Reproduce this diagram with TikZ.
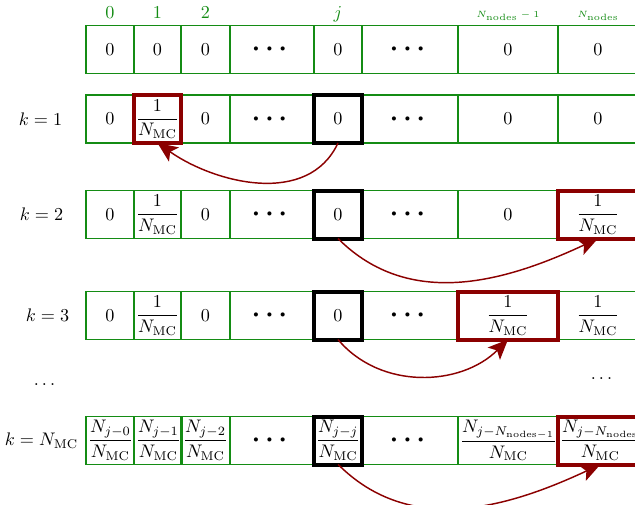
\documentclass[tikz,border=0pt]{standalone}
\usepackage{amsmath, amssymb}
\usepackage{xcolor}
\usepackage{tikz}
\usetikzlibrary{positioning,arrows.meta}

\definecolor{cellgreen}{RGB}{20,140,20}
\definecolor{hitred}{RGB}{139,0,0}

\newcommand{\frk}[1]{\dfrac{#1}{N_{\mathrm{MC}}}}
\newcommand{\bigdots}{\mbox{\Large$\boldsymbol{\cdots}$}}

\begin{document}
\begin{tikzpicture}[x=0.55pt, y=-0.55pt, >=Stealth,
		cell/.style={draw=cellgreen, semithick, anchor=west, outer sep=0pt, inner sep=1pt, minimum height=48*0.55pt},
		jbox/.style={draw=black, line width=2.2pt},
		hitbox/.style={draw=hitred, line width=2.2pt},
		idx/.style={text=cellgreen, text height=1.5ex, text depth=.25ex, inner sep=0pt},
		hop/.style={hitred, thick, -{Stealth[length=11pt, width=9.5pt, inset=2.5pt]}}]
		\useasboundingbox (0,0) rectangle (635,504);

		% rows of cells
		\foreach \x/\w/\t [count=\c from 0] in {86/48/0, 134/47/0, 181/49/0, 230/84/\bigdots, 314/48/0, 362/96/\bigdots, 458/100/0, 558/80/0}
			\node[cell, minimum width=\w*0.55pt] (r0c\c) at (\x,49.5) {$\t$};
		\foreach \x/\w/\t [count=\c from 0] in {86/48/0, 134/47/\frk{1}, 181/49/0, 230/84/\bigdots, 314/48/0, 362/96/\bigdots, 458/100/0, 558/80/0}
			\node[cell, minimum width=\w*0.55pt] (r1c\c) at (\x,119) {$\t$};
		\foreach \x/\w/\t [count=\c from 0] in {86/48/0, 134/47/\frk{1}, 181/49/0, 230/84/\bigdots, 314/48/0, 362/96/\bigdots, 458/100/0, 558/80/\frk{1}}
			\node[cell, minimum width=\w*0.55pt] (r2c\c) at (\x,214.5) {$\t$};
		\foreach \x/\w/\t [count=\c from 0] in {86/48/0, 134/47/\frk{1}, 181/49/0, 230/84/\bigdots, 314/48/0, 362/96/\bigdots, 458/100/\frk{1}, 558/80/\frk{1}}
			\node[cell, minimum width=\w*0.55pt] (r3c\c) at (\x,315.5) {$\t$};
		\foreach \x/\w/\t [count=\c from 0] in {86/48/\frk{N_{j-0}}, 134/47/\frk{N_{j-1}}, 181/49/\frk{N_{j-2}}, 230/84/\bigdots, 314/48/\frk{N_{j-j}}, 362/96/\bigdots, 458/100/\frk{N_{j-N_{\mathrm{nodes}-1}}}, 558/80/\frk{N_{j-N_{\mathrm{nodes}}}}}
			\node[cell, minimum width=\w*0.55pt] (r4c\c) at (\x,440.5) {$\t$};

		% column indices
		\node[idx, above=2.5pt of r0c0] (i0) {$0$};
		\node[idx, above=2.5pt of r0c1] (i1) {$1$};
		\node[idx, above=2.5pt of r0c2] (i2) {$2$};
		\node[idx, above=2.5pt of r0c4] (ij) {$j$};
		\node[idx, font=\tiny, above=3pt of r0c6] (in1) {$N_{\mathrm{nodes}}-1$};
		\node[idx, font=\tiny, above=3pt of r0c7] (in) {$N_{\mathrm{nodes}}$};

		% iteration labels
		\node (k1) at (40.5,119) {$k=1$};
		\node (k2) at (41.5,214.5) {$k=2$};
		\node (k3) at (47.5,315.5) {$k=3$};
		\node (kdots) at (46,385) {$\dots$};
		\node (rdots) at (603,379) {$\dots$};
		\node (kN) at (41.5,440.5) {$k=N_{\mathrm{MC}}$};

		% highlighted cells
		\draw[jbox] (r1c4.south west) rectangle (r1c4.north east);
		\draw[jbox] (r2c4.south west) rectangle (r2c4.north east);
		\draw[jbox] (r3c4.south west) rectangle (r3c4.north east);
		\draw[jbox] (r4c4.south west) rectangle (r4c4.north east);
		\draw[hitbox] (r1c1.south west) rectangle (r1c1.north east);
		\draw[hitbox] (r2c7.south west) rectangle (r2c7.north east);
		\draw[hitbox] (r3c6.south west) rectangle (r3c6.north east);
		\draw[hitbox] (r4c7.south west) rectangle (r4c7.north east);

		\draw[hop] (r1c4.south) to[out=-115, in=-35] (r1c1.south);
		\draw[hop] (r2c4.south) to[out=-45, in=-155] (r2c7.south);
		\draw[hop] (r3c4.south) to[out=-50, in=-135] (r3c6.south);
		\draw[hop] (r4c4.south) to[out=-45, in=-155] (r4c7.south);
	\end{tikzpicture}
\end{document}
